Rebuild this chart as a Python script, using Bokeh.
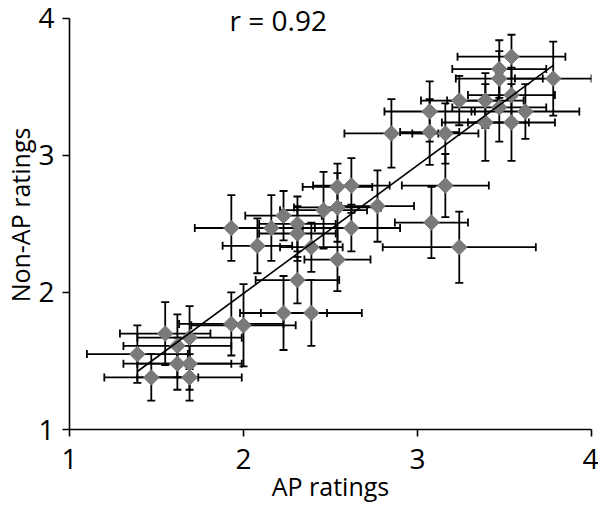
import numpy as np
from bokeh.plotting import figure
from bokeh.models import Range1d, ColumnDataSource, Whisker, TeeHead, Label, FixedTicker
from bokeh.embed import file_html
from bokeh.resources import INLINE

# AP ratings (x), Non-AP ratings (y), and their error bar half-widths
ap = [1.39, 1.47, 1.55, 1.62, 1.69, 1.62, 1.69, 1.69, 1.93, 2.00, 2.23, 2.39,
      1.93, 2.08, 2.16, 2.23, 2.31, 2.31, 2.39, 2.31, 2.46, 2.54, 2.54, 2.54, 2.62, 2.77, 2.62,
      3.54, 3.47, 3.47, 3.78, 3.24, 3.39, 3.54, 3.07, 3.47, 3.62, 3.39, 3.54, 2.85, 3.07, 3.16,
      3.16, 3.08, 3.24]
nonap = [1.55, 1.38, 1.70, 1.61, 1.67, 1.48, 1.48, 1.38, 1.77, 1.76, 1.85, 1.85,
         2.47, 2.34, 2.47, 2.56, 2.50, 2.43, 2.33, 2.09, 2.60, 2.77, 2.62, 2.24, 2.78, 2.63, 2.47,
         3.72, 3.63, 3.56, 3.56, 3.40, 3.40, 3.44, 3.32, 3.35, 3.32, 3.24, 3.24, 3.16, 3.17, 3.16,
         2.78, 2.51, 2.33]
ap_err = [0.29, 0.27, 0.26, 0.31, 0.30, 0.31, 0.30, 0.30, 0.30, 0.30, 0.25, 0.29,
          0.21, 0.20, 0.25, 0.22, 0.22, 0.22, 0.18, 0.24, 0.25, 0.20, 0.25, 0.19, 0.22, 0.21, 0.28,
          0.31, 0.27, 0.25, 0.22, 0.22, 0.22, 0.25, 0.26, 0.27, 0.31, 0.25, 0.25, 0.27, 0.17, 0.19,
          0.25, 0.21, 0.44]
nonap_err = [0.21, 0.17, 0.23, 0.23, 0.23, 0.19, 0.19, 0.17, 0.23, 0.30, 0.27, 0.24,
             0.24, 0.20, 0.24, 0.18, 0.20, 0.20, 0.18, 0.17, 0.28, 0.17, 0.25, 0.23, 0.20, 0.26, 0.17,
             0.16, 0.21, 0.20, 0.27, 0.18, 0.20, 0.20, 0.22, 0.25, 0.20, 0.28, 0.28, 0.25, 0.24, 0.22,
             0.23, 0.26, 0.26]
ticks = [1, 2, 3, 4]
r_text = "r = 0.92"

x = np.array(ap)
y = np.array(nonap)
xe = np.array(ap_err)
ye = np.array(nonap_err)

src = ColumnDataSource(dict(x=x, y=y, xl=x - xe, xu=x + xe, yl=y - ye, yu=y + ye))

FONT = "Open Sans"

p = figure(frame_width=522, frame_height=429, output_backend="svg", toolbar_location=None,
           x_range=Range1d(1, 4), y_range=Range1d(1, 4.13),
           min_border_left=61, min_border_right=7, min_border_top=0, min_border_bottom=70)
p.outline_line_color = None
p.grid.visible = False
p.background_fill_color = "white"

for ax in (p.xaxis[0], p.yaxis[0]):
    ax.ticker = FixedTicker(ticks=ticks)
    ax.bounds = (1, 4)
    ax.minor_tick_line_color = None
    ax.major_tick_in = 0
    ax.major_tick_out = 7
    ax.axis_line_width = 1.6
    ax.major_tick_line_width = 1.6
    ax.axis_line_color = "black"
    ax.major_tick_line_color = "black"
    ax.major_label_text_font = FONT
    ax.major_label_text_font_size = "28px"
    ax.major_label_text_color = "black"
    ax.axis_label_text_font = FONT
    ax.axis_label_text_font_size = "25px"
    ax.axis_label_text_font_style = "normal"
    ax.axis_label_text_color = "black"

p.xaxis.axis_label = "AP ratings"
p.yaxis.axis_label = "Non-AP ratings"
p.xaxis.major_label_standoff = 12
p.yaxis.major_label_standoff = 8
p.xaxis.axis_label_standoff = -3
p.yaxis.axis_label_standoff = -2

# diamonds
p.scatter("x", "y", source=src, marker="square", angle=np.pi / 4, size=11,
          fill_color="#7a7a7a", line_color="#7a7a7a")

# regression line from the data
k, b = np.polyfit(x, y, 1)
xs = np.array([x.min(), x.max()])
p.line(xs, k * xs + b, line_color="black", line_width=1.6)

# error bars
for dim, base, lo, hi in (("height", "x", "yl", "yu"), ("width", "y", "xl", "xu")):
    w = Whisker(source=src, base=base, lower=lo, upper=hi, dimension=dim,
                line_color="black", line_width=1.8,
                upper_head=TeeHead(size=8, line_width=1.8, line_color="black"),
                lower_head=TeeHead(size=8, line_width=1.8, line_color="black"))
    p.add_layout(w)

p.add_layout(Label(x=2.2, y=3.985, text=r_text, text_align="center", text_baseline="middle",
                   text_font=FONT, text_font_size="28px", text_color="black"))

open("out.html", "w").write(file_html(p, INLINE))
